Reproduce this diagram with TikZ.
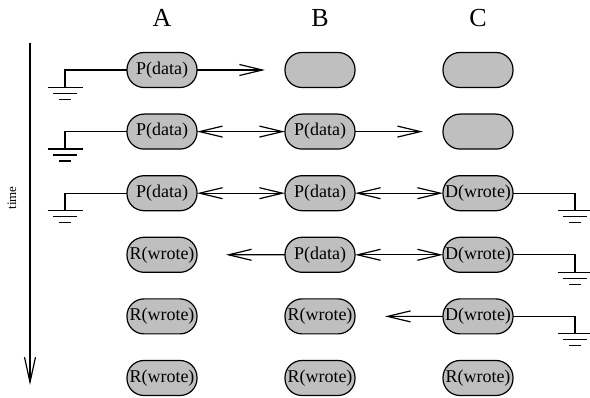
\documentclass[tikz,border=0pt]{standalone}
\usepackage{fontspec}
\setmainfont{Liberation Serif}
\usetikzlibrary{positioning, arrows.meta}
\usepackage{xcolor}
\newcommand{\Pdata}{P(data)}
\newcommand{\Dwrote}{D(wrote)}
\newcommand{\Rwrote}{R(wrote)}
\definecolor{nodegray}{gray}{0.75}

\tikzset{
  site/.style={draw, fill=nodegray, rounded corners=17pt, minimum width=70pt,
    minimum height=35pt, inner sep=0pt, outer sep=0pt, font=\fontsize{18}{18}\selectfont},
  msg/.style={-{Straight Barb[length=23pt,width=11pt]}},
  msgs/.style={{Straight Barb[length=23pt,width=11pt]}-{Straight Barb[length=23pt,width=11pt]}},
  gnd/.pic={\draw (-17.5,0) -- (17.5,0) (-12,-6) -- (12,-6) (-6,-12) -- (6,-12);}
}

\begin{document}
\begin{tikzpicture}[x=1pt,y=1pt,line width=1.2pt]
  \useasboundingbox (0,0) rectangle (590,-398);

  \node[site]                     (A1) at (162,-70) {\Pdata};
  \node[site, right=88pt of A1]   (B1) {};
  \node[site, right=88pt of B1]   (C1) {};
  \node[site, below=26.6pt of A1] (A2) {\Pdata};
  \node[site, right=88pt of A2]   (B2) {\Pdata};
  \node[site, right=88pt of B2]   (C2) {};
  \node[site, below=26.6pt of A2] (A3) {\Pdata};
  \node[site, right=88pt of A3]   (B3) {\Pdata};
  \node[site, right=88pt of B3]   (C3) {\Dwrote};
  \node[site, below=26.6pt of A3] (A4) {\Rwrote};
  \node[site, right=88pt of A4]   (B4) {\Pdata};
  \node[site, right=88pt of B4]   (C4) {\Dwrote};
  \node[site, below=26.6pt of A4] (A5) {\Rwrote};
  \node[site, right=88pt of A5]   (B5) {\Rwrote};
  \node[site, right=88pt of B5]   (C5) {\Dwrote};
  \node[site, below=26.6pt of A5] (A6) {\Rwrote};
  \node[site, right=88pt of A6]   (B6) {\Rwrote};
  \node[site, right=88pt of B6]   (C6) {\Rwrote};

  % column heads
  \node[font=\fontsize{26}{26}\selectfont] (hA) at (A1 |- 0,-18) {A};
  \node[font=\fontsize{26}{26}\selectfont] (hB) at (B1 |- 0,-18) {B};
  \node[font=\fontsize{26}{26}\selectfont] (hC) at (C1 |- 0,-18) {C};

  % time axis
  \coordinate (t0) at (30,-43);
  \coordinate (t1) at (30,-385);
  \draw[-{Straight Barb[length=25pt,width=11pt]}] (t0) -- (t1);
  \node[rotate=90, font=\fontsize{13}{13}\selectfont] (time) at (12,-198) {time};

  % messages
  \coordinate (e1) at (265,-70);
  \coordinate (e2) at (423,-131.6);
  \coordinate (e4) at (226,-254.8);
  \coordinate (e5) at (385,-316.4);
  \draw[msg]  (A1) -- (e1);
  \draw[msgs] (A2) -- (B2);
  \draw[msg]  (B2) -- (e2);
  \draw[msgs] (A3) -- (B3);
  \draw[msgs] (B3) -- (C3);
  \draw[msgs] (B4) -- (C4);
  \draw[msg]  (B4) -- (e4);
  \draw[msg]  (C5) -- (e5);

  % grounds
  \coordinate (g1) at (65,-87.5);
  \coordinate (g2) at (65,-149.1);
  \coordinate (g3) at (65,-210.7);
  \coordinate (g4) at (575,-210.7);
  \coordinate (g5) at (575,-272.3);
  \coordinate (g6) at (575,-333.9);
  \draw (A1.west) -| (g1) pic{gnd};
  \draw (A2.west) -| (g2) pic{gnd};
  \draw (A3.west) -| (g3) pic{gnd};
  \draw (C3.east) -| (g4) pic{gnd};
  \draw (C4.east) -| (g5) pic{gnd};
  \draw (C5.east) -| (g6) pic{gnd};
\end{tikzpicture}
\end{document}
